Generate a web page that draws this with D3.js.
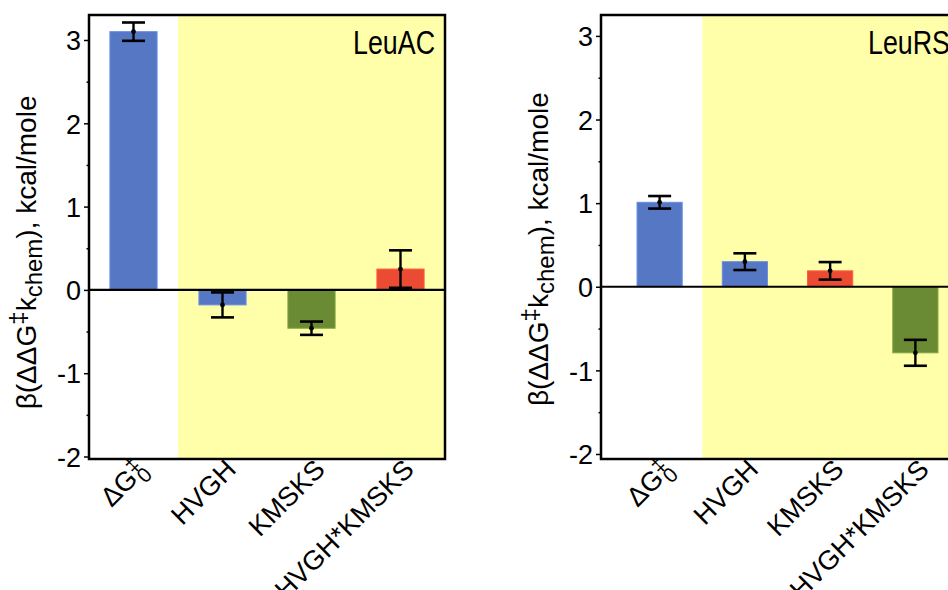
<!DOCTYPE html>
<html>
<head>
<meta charset="utf-8">
<script src="https://cdn.jsdelivr.net/npm/d3@7"></script>
<style>
  body { margin: 0; background: #fff; }
  svg { font-family: "Liberation Sans", Arial, Helvetica, sans-serif; }
</style>
</head>
<body>
<svg width="948" height="590"></svg>
<script>
// categories on the x axis (same order in both panels)
const categories = ['dG0', 'HVGH', 'KMSKS', 'HVGH*KMSKS'];

// LeuAC panel
const leuacValues = [3.10, -0.18, -0.46, 0.25];
const leuacErrors = [0.11, 0.15, 0.08, 0.225];

// LeuRS panel
const leursValues = [1.01, 0.30, 0.19, -0.79];
const leursErrors = [0.075, 0.10, 0.105, 0.155];

const yTicks = [-2, -1, 0, 1, 2, 3];
const yMinorTicks = [-1.5, -0.5, 0.5, 1.5, 2.5];

const blue = '#5677c4',
  green = '#6a8a33',
  red = '#ec4b33',
  yellow = '#ffffaa';

const panels = [
  {
    title: 'LeuAC', values: leuacValues, errors: leuacErrors,
    colors: [blue, blue, green, red],
    left: 89, right: 445, bandLeft: 89, bandRight: 445,
    top: 15, bottom: 459, domain: [-2.03, 3.3]
  },
  {
    title: 'LeuRS', values: leursValues, errors: leursErrors,
    colors: [blue, blue, red, green],
    left: 601, right: 960, bandLeft: 617, bandRight: 958,
    top: 15, bottom: 459, domain: [-2.06, 3.25]
  }
];

const svg = d3.select('svg');
const pad = 0.47;

panels.forEach((p) => {
  const x = d3.scaleBand()
    .domain(categories)
    .range([p.bandLeft, p.bandRight])
    .paddingInner(pad)
    .paddingOuter(pad / 2);
  const y = d3.scaleLinear().domain(p.domain).range([p.bottom, p.top]);

  const g = svg.append('g');

  // white plot + yellow shaded region (from 2nd category on)
  g.append('rect')
    .attr('x', p.left).attr('y', p.top)
    .attr('width', p.right - p.left).attr('height', p.bottom - p.top)
    .attr('fill', '#fff');
  const yx = x(categories[1]) - x.step() * pad / 2;
  g.append('rect')
    .attr('x', yx).attr('y', p.top)
    .attr('width', p.right - yx).attr('height', p.bottom - p.top)
    .attr('fill', yellow);

  // bars
  g.selectAll('.bar')
    .data(p.values)
    .enter()
    .append('rect')
    .attr('class', 'bar')
    .attr('x', (d, i) => x(categories[i]))
    .attr('width', x.bandwidth())
    .attr('y', (d) => y(Math.max(0, d)))
    .attr('height', (d) => Math.abs(y(d) - y(0)))
    .attr('fill', (d, i) => p.colors[i])
    .attr('stroke', (d, i) => d3.color(p.colors[i]).brighter(0.5))
    .attr('stroke-width', 1);

  // zero line
  g.append('line')
    .attr('x1', p.left).attr('x2', p.right)
    .attr('y1', y(0)).attr('y2', y(0))
    .attr('stroke', '#000').attr('stroke-width', 2.2);

  // error bars
  const eb = g.selectAll('.err')
    .data(p.values)
    .enter()
    .append('g')
    .attr('class', 'err')
    .attr('transform', (d, i) => `translate(${x(categories[i]) + x.bandwidth() / 2},0)`);
  eb.append('line')
    .attr('y1', (d, i) => y(d - p.errors[i]))
    .attr('y2', (d, i) => y(d + p.errors[i]))
    .attr('stroke', '#000').attr('stroke-width', 2.4);
  [-1, 1].forEach((s) => {
    eb.append('line')
      .attr('x1', -11.5).attr('x2', 11.5)
      .attr('y1', (d, i) => y(d + s * p.errors[i]))
      .attr('y2', (d, i) => y(d + s * p.errors[i]))
      .attr('stroke', '#000').attr('stroke-width', 2.6);
  });
  eb.append('circle')
    .attr('cy', (d) => y(d))
    .attr('r', 2.4)
    .attr('fill', '#000');

  // y axis: major and minor ticks
  const ya = g.append('g')
    .attr('transform', `translate(${p.left},0)`)
    .call(d3.axisLeft(y).tickValues(yTicks).tickSize(5).tickPadding(3)
      .tickFormat((d) => d));
  ya.select('.domain').remove();
  ya.selectAll('line').attr('stroke-width', 1.5);
  ya.selectAll('text')
    .attr('font-size', 27)
    .attr('fill', '#000')
    .attr('dy', '0.36em');

  const ym = g.append('g')
    .attr('transform', `translate(${p.left},0)`)
    .call(d3.axisLeft(y).tickValues(yMinorTicks).tickSize(2.5).tickFormat(''));
  ym.select('.domain').remove();
  ym.selectAll('line').attr('stroke-width', 1.5);

  // frame
  g.append('rect')
    .attr('x', p.left).attr('y', p.top)
    .attr('width', p.right - p.left).attr('height', p.bottom - p.top)
    .attr('fill', 'none')
    .attr('stroke', '#000').attr('stroke-width', 2.5);

  // panel title
  g.append('text')
    .attr('x', p.right - 10).attr('y', p.top + 39)
    .attr('text-anchor', 'end')
    .attr('font-size', 34)
    .attr('textLength', 82)
    .attr('lengthAdjust', 'spacingAndGlyphs')
    .text(p.title);

  // x category labels, rotated
  const xl = g.selectAll('.xl')
    .data(categories)
    .enter()
    .append('text')
    .attr('class', 'xl')
    .attr('text-anchor', 'end')
    .attr('font-size', 27)
    .attr('transform', (d) => `translate(${x(d) + x.bandwidth() / 2 + 15},${p.bottom + 12}) rotate(-45)`);
  xl.each(function (d) {
    const t = d3.select(this);
    if (d === 'dG0') {
      t.append('tspan').text('ΔG');
      t.append('tspan').attr('font-size', 21).attr('dy', -9).text('‡');
      t.append('tspan').attr('font-size', 21).attr('dx', -10).attr('dy', 16).text('0');
    } else {
      t.text(d);
    }
  });

  // y axis title
  const yt = g.append('text')
    .attr('text-anchor', 'middle')
    .attr('font-size', 28)
    .attr('transform', `translate(${p.left - 53},${y(0.45)}) rotate(-90)`);
  yt.append('tspan').text('β(ΔΔG');
  yt.append('tspan').attr('dy', -10).attr('font-size', 24).text('‡');
  yt.append('tspan').attr('dy', 10).text('k');
  yt.append('tspan').attr('dy', 6).attr('font-size', 24).text('chem');
  yt.append('tspan').attr('dy', -6).text('), kcal/mole');
});
</script>
</body>
</html>
